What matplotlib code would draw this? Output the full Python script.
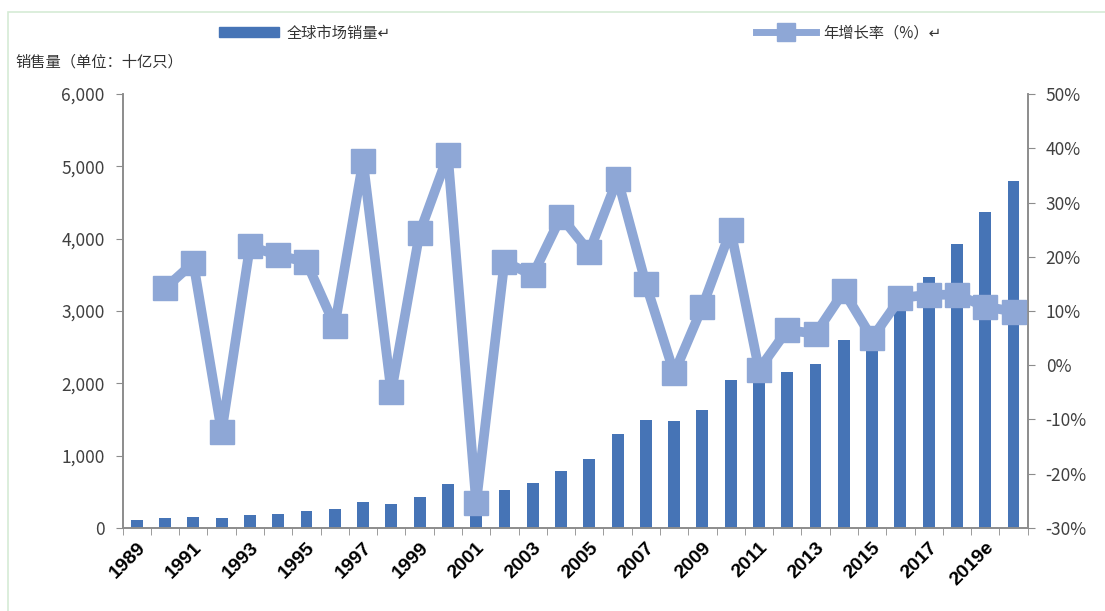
import numpy as np
import matplotlib
matplotlib.use("Agg")
import matplotlib.pyplot as plt
from matplotlib.patches import Patch, Rectangle
from matplotlib.lines import Line2D
from matplotlib.ticker import FuncFormatter, FixedLocator

plt.rcParams['font.family'] = ['Noto Sans CJK SC', 'DejaVu Sans']

# 数据
years = ['1989', '1990', '1991', '1992', '1993', '1994', '1995', '1996', '1997', '1998',
         '1999', '2000', '2001', '2002', '2003', '2004', '2005', '2006', '2007', '2008',
         '2009', '2010', '2011', '2012', '2013', '2014', '2015', '2016', '2017', '2018',
         '2019e', '2020e']
sales = [110, 133, 156, 138, 175, 198, 235, 258, 355, 336,
         424, 608, 456, 520, 627, 793, 958, 1304, 1494, 1475,
         1636, 2051, 2040, 2152, 2272, 2604, 2735, 3077, 3471, 3932,
         4365, 4800]
growth = [np.nan, 14.2, 18.9, -12.3, 21.9, 20.3, 19.0, 7.3, 37.6, -5.0,
          24.4, 38.7, -25.4, 19.1, 16.6, 27.4, 20.9, 34.4, 15.0, -1.5,
          10.8, 24.9, -0.8, 6.5, 5.8, 13.6, 5.0, 12.4, 13.0, 13.0,
          10.8, 9.9]

bar_color = '#4674B6'
line_color = '#8EA7D6'
axis_color = '#8C8C8C'
text_color = '#404040'

fig = plt.figure(figsize=(11.05, 6.11), dpi=100)
ax = fig.add_axes([0.111, 0.136, 0.819, 0.710])
ax2 = ax.twinx()

x = np.arange(len(years))
ax.bar(x, sales, width=0.42, color=bar_color, zorder=2)
ax2.plot(x, growth, color=line_color, lw=7, marker='s', markersize=17,
         markerfacecolor=line_color, markeredgecolor=line_color, zorder=3)

ax.set_xlim(-0.5, len(years) - 0.5)
ax.set_ylim(0, 6000)
ax2.set_ylim(-30, 50)
ax.set_yticks(np.arange(0, 6001, 1000))
ax2.set_yticks(np.arange(-30, 51, 10))
ax.yaxis.set_major_formatter(FuncFormatter(lambda v, p: f'{int(v):,}'))
ax2.yaxis.set_major_formatter(FuncFormatter(lambda v, p: f'{int(v)}%'))

# x 轴：每两年一个标签，刻度线在类别之间
lab_idx = list(range(0, len(years), 2))
ax.set_xticks(lab_idx)
ax.set_xticklabels([years[i] for i in lab_idx], rotation=45, ha='right',
                   rotation_mode='anchor', fontsize=14, fontweight='bold', color='black',
                   family=['Liberation Sans', 'DejaVu Sans'])
ax.xaxis.set_minor_locator(FixedLocator(np.arange(-0.5, len(years), 1.0)))
ax.tick_params(axis='x', which='major', length=0, pad=8)
ax.tick_params(axis='x', which='minor', length=5, color=axis_color, direction='out')
ax.tick_params(axis='y', length=5, color=axis_color, labelsize=12.5, labelcolor=text_color, pad=8)
ax2.tick_params(axis='y', length=5, color=axis_color, labelsize=12.5, labelcolor=text_color, pad=8)

for a in (ax, ax2):
    a.spines['top'].set_visible(False)
    for s in ('left', 'right', 'bottom'):
        a.spines[s].set_color(axis_color)
        a.spines[s].set_linewidth(1.2)
ax.set_zorder(1)
ax2.set_zorder(2)
ax.patch.set_visible(False)

fig.text(0.014, 0.898, '销售量（单位：十亿只）', fontsize=11, color='#333333', ha='left', va='center')

# 图例
fig.legend(handles=[Patch(color=bar_color)], labels=['全球市场销量↵'],
           loc='center left', bbox_to_anchor=(0.186, 0.946), frameon=False,
           fontsize=11, handlelength=3.9, handleheight=0.7, handletextpad=0.5,
           labelcolor='#333333')
fig.legend(handles=[Line2D([], [], color=line_color, lw=5, marker='s', markersize=13)],
           labels=['年增长率（%）↵'], loc='center left', bbox_to_anchor=(0.672, 0.946),
           frameon=False, fontsize=11, handlelength=3.9, handletextpad=0.5,
           labelcolor='#333333')

# 图片外框
fig.patches.append(Rectangle((0.007, -0.05), 1.1, 1.03, transform=fig.transFigure,
                             fill=False, edgecolor='#D6EBD6', lw=1.2))

fig.savefig('out.png', dpi=100)
